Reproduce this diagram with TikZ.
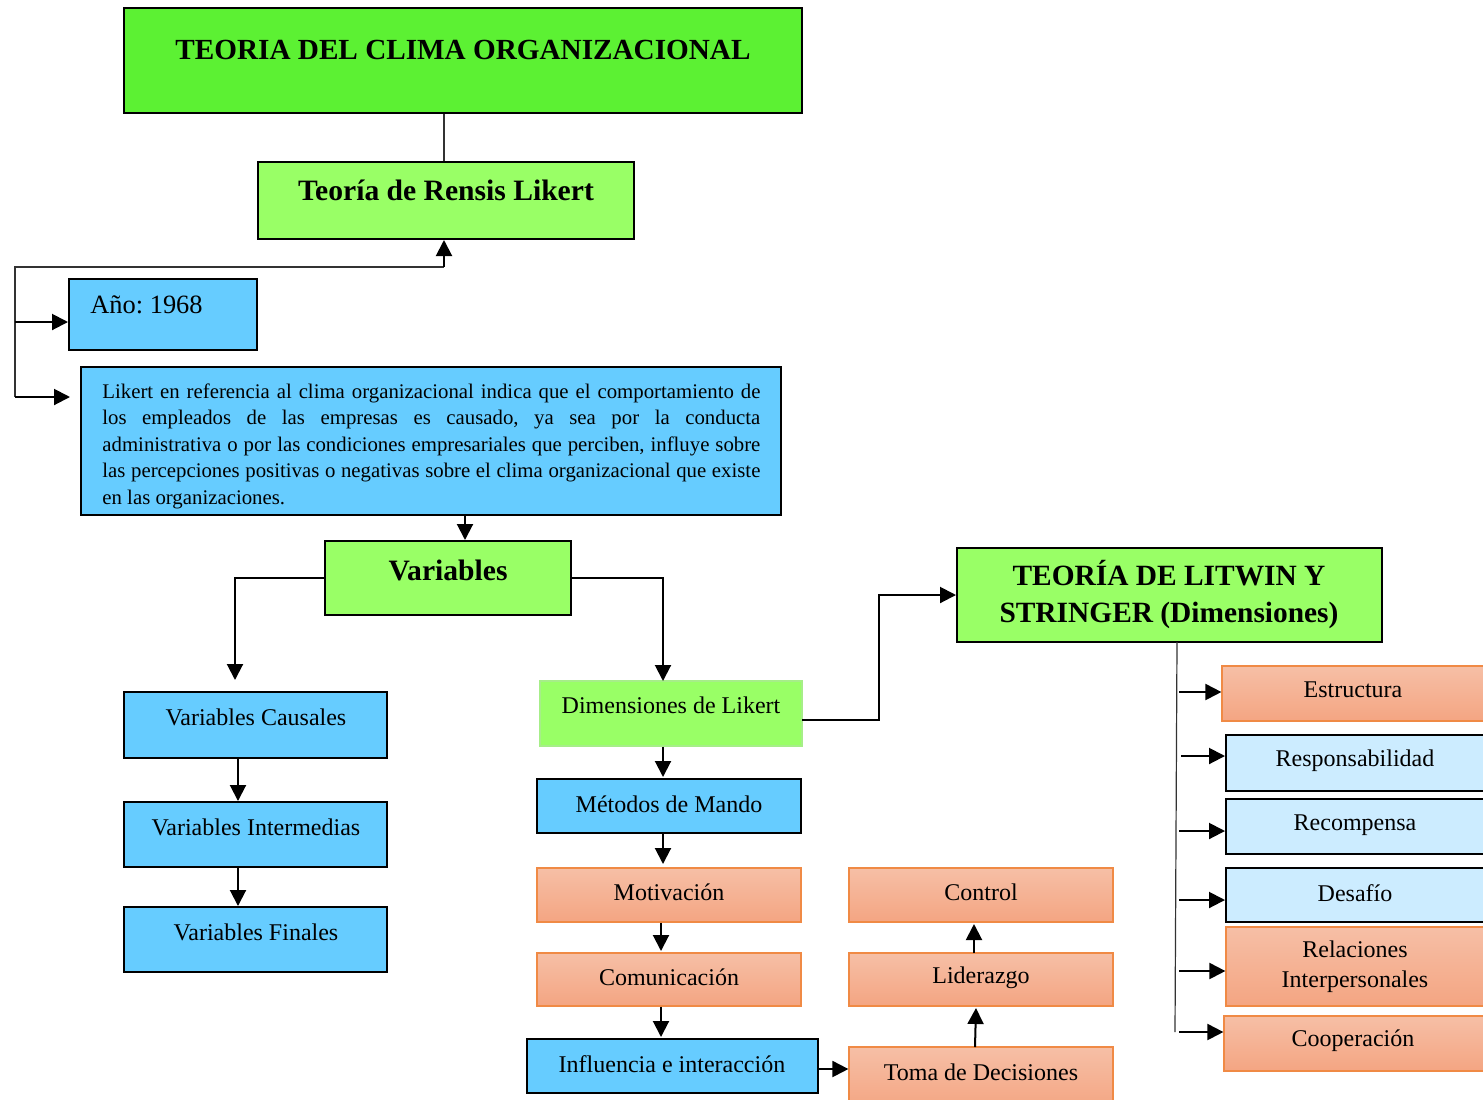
\documentclass[tikz,border=0pt]{standalone}
\usepackage{fontspec}
\setmainfont{Liberation Serif}
\usetikzlibrary{fit,arrows.meta}
\definecolor{titlegreen}{HTML}{5CF133}
\definecolor{lightgreen}{HTML}{99FF66}
\definecolor{paleedge}{HTML}{A6EE88}
\definecolor{skyblue}{HTML}{66CCFF}
\definecolor{paleblue}{HTML}{CCECFF}
\definecolor{salmontop}{HTML}{F6BFA6}
\definecolor{salmonbot}{HTML}{F4A582}
\definecolor{salmonline}{HTML}{F08A45}
\definecolor{wire}{HTML}{333333}

\begin{document}
\frenchspacing
\begin{tikzpicture}[x=0.5pt,y=-0.5pt,
  box/.style={inner sep=0pt, line width=1pt, draw=black},
  greenbox/.style={box, fill=lightgreen},
  bluebox/.style={box, fill=skyblue},
  palebox/.style={box, fill=paleblue},
  salmonbox/.style={inner sep=0pt, line width=0.6pt, draw=salmonline,
                    top color=salmontop, bottom color=salmonbot},
  txt/.style={inner sep=0pt, font=\fontsize{12}{14}\selectfont},
  bigtxt/.style={inner sep=0pt, font=\fontsize{14.8}{18}\selectfont\bfseries, align=center},
  arr/.style={line width=1pt, -{Triangle[length=8pt,width=8pt]}},
  thinwire/.style={line width=0.6pt, draw=wire}
]
\useasboundingbox (0,0) rectangle (1483,1099);

% ---------- boxes ----------
\node[box, fill=titlegreen, fit={(124,8) (802,113)}] (title) {};
\node[greenbox, fit={(258,162) (634,239)}] (likert) {};
\node[bluebox, fit={(69,279) (257,350)}] (ano) {};
\node[bluebox, fit={(81,367) (781,515)}] (para) {};
\node[greenbox, fit={(325,541) (571,615)}] (vars) {};

\node[bluebox, fit={(124,692) (387,758)}] (causales) {};
\node[bluebox, fit={(124,802) (387,867)}] (intermedias) {};
\node[bluebox, fit={(124,907) (387,972)}] (finales) {};

\node[inner sep=0pt, line width=0.6pt, draw=paleedge, fill=lightgreen, fit={(540,681) (802,746)}] (dim) {};
\node[bluebox, fit={(537,779) (801,833)}] (metodos) {};
\node[salmonbox, fit={(537,868) (801,922)}] (motiv) {};
\node[salmonbox, fit={(537,953) (801,1006)}] (comun) {};
\node[bluebox, fit={(527,1039) (818,1093)}] (influ) {};

\node[salmonbox, fit={(849,868) (1113,922)}] (control) {};
\node[salmonbox, fit={(849,953) (1113,1006)}] (lider) {};
\node[salmonbox, fit={(849,1047) (1113,1110)}] (toma) {};

\node[greenbox, fit={(957,548) (1382,642)}] (litwin) {};

\node[salmonbox, fit={(1222,666) (1490,721)}] (estruc) {};
\node[palebox, fit={(1226,735) (1490,791)}] (respon) {};
\node[palebox, fit={(1226,799) (1490,854)}] (recomp) {};
\node[palebox, fit={(1226,868) (1490,922)}] (desafio) {};
\node[salmonbox, fit={(1226,927) (1490,1006)}] (relac) {};
\node[salmonbox, fit={(1224,1016) (1490,1071)}] (coop) {};

% ---------- texts ----------
\node[bigtxt, font=\fontsize{14.6}{18}\selectfont\bfseries] (titletxt) at (463,50) {TEORIA DEL CLIMA ORGANIZACIONAL};
\node[bigtxt] (likerttxt) at (446,190) {Teoría de Rensis Likert};
\node[txt, anchor=west, font=\fontsize{13.2}{15}\selectfont] (anotxt) at (90,305) {Año: 1968};
\node[inner sep=0pt, anchor=north west, text width=329pt, align=justify,
      font=\fontsize{10.4}{13.25}\selectfont] (paratxt) at (102,383)
  {\hbadness=10000 \hfuzz=20pt
   Likert en referencia al clima organizacional indica que el comportamiento de\linebreak
   los empleados de las empresas es causado, ya sea por la conducta\linebreak
   administrativa o por las condiciones empresariales que perciben, influye sobre\linebreak
   las percepciones positivas o negativas sobre el clima organizacional que existe\linebreak
   en las organizaciones.};
\node[bigtxt] (varstxt) at (448,570) {Variables};

\node[txt] (t1) at (256,717) {Variables Causales};
\node[txt] (t2) at (256,827) {Variables Intermedias};
\node[txt] (t3) at (256,932) {Variables Finales};

\node[txt] (t4) at (671,705) {Dimensiones de Likert};
\node[txt] (t5) at (669,804) {Métodos de Mando};
\node[txt] (t6) at (669,892) {Motivación};
\node[txt] (t7) at (669,977) {Comunicación};
\node[txt] (t8) at (672,1064) {Influencia e interacción};

\node[txt] (t9) at (981,892) {Control};
\node[txt] (t10) at (981,978) {Liderazgo};
\node[txt] (t11) at (981,1072) {Toma de Decisiones};

\node[bigtxt, font=\fontsize{14.7}{18.5}\selectfont\bfseries] (litwintxt) at (1169,595)
  {TEORÍA DE LITWIN Y\\STRINGER (Dimensiones)};

\node[txt] (t12) at (1353,690) {Estructura};
\node[txt] (t13) at (1355,761) {Responsabilidad};
\node[txt] (t14) at (1355,825) {Recompensa};
\node[txt] (t15) at (1355,893) {Desafío};
\node[txt, align=center, font=\fontsize{12}{15}\selectfont] (t16) at (1355,967) {Relaciones\\Interpersonales};
\node[txt] (t17) at (1353,1041) {Cooperación};

% ---------- connectors ----------
\draw[thinwire] (title.south -| 444,0) -- (likert.north -| 444,0);

% left bracket feeding the Likert box
\coordinate (hubtop) at (15,267);
\coordinate (hubano) at (15,322);
\coordinate (hubpara) at (15,397);
\coordinate (paratip) at (70,397);
\coordinate (likin) at (444,267);
\draw[thinwire] (hubpara) -- (hubtop) -- (likin);
\draw[arr] (likin) -- (likin |- likert.south);
\draw[arr] (hubano) -- (hubano -| ano.west);
\draw[arr] (hubpara) -- (paratip);

\draw[arr] (para.south -| 465,0) -- (vars.north -| 465,0);

% Variables branches
\coordinate (causin) at (235,680);
\coordinate (dimin) at (663,681);
\draw[arr] (vars.west) -| (causin);
\draw[arr] (vars.east) -| (dimin);

\draw[arr] (causales.south -| 238,0) -- (intermedias.north -| 238,0);
\draw[arr] (intermedias.south -| 238,0) -- (finales.north -| 238,0);

% Likert dimensions chain
\coordinate (c1) at (663,777);
\coordinate (c2) at (663,864);
\coordinate (c3) at (661,951);
\coordinate (c4) at (661,1037);
\draw[arr] (dim.south -| c1) -- (c1);
\draw[arr] (metodos.south -| c2) -- (c2);
\draw[arr] (motiv.south -| c3) -- (c3);
\draw[arr] (comun.south -| c4) -- (c4);

\coordinate (influout) at (818,1069);
\draw[arr] (influout) -- (influout -| toma.west);
\coordinate (tomaout) at (975,1047);
\coordinate (liderin) at (976,1008);
\coordinate (liderout) at (974,953);
\coordinate (controlin) at (974,924);
\draw[arr] (tomaout) -- (liderin);
\draw[arr] (liderout) -- (controlin);

% link to Litwin and Stringer
\coordinate (dimout) at (802,720);
\coordinate (bend) at (879,720);
\draw[arr] (dimout) -- (bend) |- (litwin.west);

% Litwin and Stringer dimensions
\coordinate (spinetop) at (1177,642);
\coordinate (spinebot) at (1175,1032);
\draw[thinwire] (spinetop) -- (spinebot);
\coordinate (b1) at (1179,692);
\coordinate (b2) at (1181,756);
\coordinate (b3) at (1179,831);
\coordinate (b4) at (1179,900);
\coordinate (b5) at (1179,971);
\coordinate (b6) at (1179,1032);
\draw[arr] (b1) -- (b1 -| estruc.west);
\draw[arr] (b2) -- (b2 -| respon.west);
\draw[arr] (b3) -- (b3 -| recomp.west);
\draw[arr] (b4) -- (b4 -| desafio.west);
\draw[arr] (b5) -- (b5 -| relac.west);
\draw[arr] (b6) -- (b6 -| coop.west);
\end{tikzpicture}
\end{document}
